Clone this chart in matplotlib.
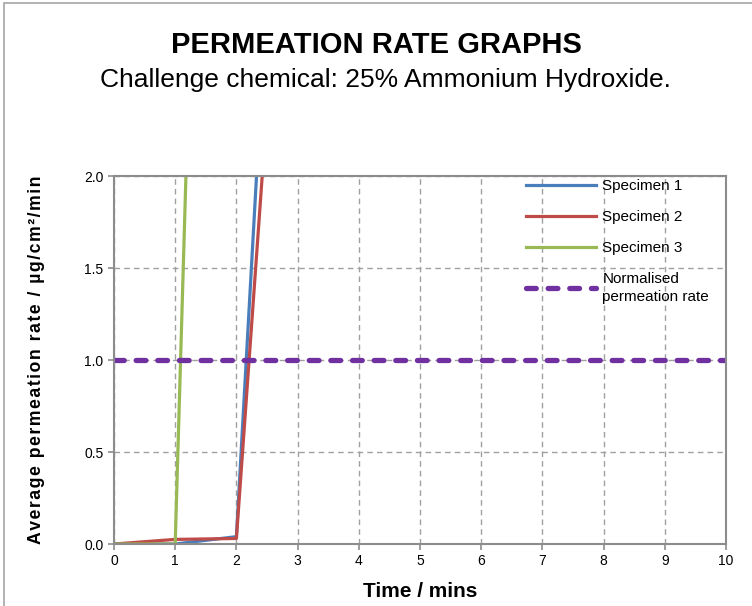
import matplotlib.pyplot as plt
from matplotlib.patches import Rectangle

plt.rcParams['font.family'] = ['Liberation Sans', 'DejaVu Sans']

# data
time = [0, 1, 2, 3]
spec1 = [0.0, 0.0, 0.04, 6.0]
spec2 = [0.0, 0.025, 0.03, 4.7]
spec3 = [0.0, 0.0, 11.4, 20.0]
norm_x = [0, 10]
norm_y = [1.0, 1.0]

fig = plt.figure(figsize=(7.52, 6.06), dpi=100)
fig.patches.append(Rectangle((4 / 752, -0.1), 1.2, 1 - 3 / 606 + 0.1, transform=fig.transFigure,
                             fill=False, edgecolor='#a6a6a6', linewidth=1.2))

ax = fig.add_axes([114 / 752, 1 - 544 / 606, 612 / 752, 368 / 606])
ax.plot(time, spec1, color='#4a7ebb', lw=2.3, label='Specimen 1')
ax.plot(time, spec2, color='#be4b48', lw=2.3, label='Specimen 2')
ax.plot(time, spec3, color='#98b954', lw=2.3, label='Specimen 3')
ax.plot(norm_x, norm_y, color='#7030a0', lw=3.8, ls=(0, (1.85, 2.25)), dash_capstyle='round',
        label='Normalised\npermeation rate')

ax.set_xlim(0, 10)
ax.set_ylim(0, 2)
ax.set_xticks(range(0, 11))
ax.set_yticks([0, 0.5, 1.0, 1.5, 2.0])
ax.set_yticklabels(['0.0', '0.5', '1.0', '1.5', '2.0'])
ax.grid(True, color='#a0a0a0', ls=(0, (4, 3)), lw=1)
for s in ax.spines.values():
    s.set_color('#8c8c8c')
    s.set_linewidth(1.5)
ax.tick_params(colors='#8c8c8c', labelcolor='black', labelsize=10, length=4, width=1.2)

ax.set_xlabel('Time / mins', fontsize=15, fontweight='bold', labelpad=10)
ylab = 'Average permeation rate / µg/cm²/min'
ax.set_ylabel('\u200a'.join(ylab), fontsize=12.7, fontweight='bold', labelpad=28)

leg = ax.legend(loc='upper left', bbox_to_anchor=((526 - 114) / 612, 0.991), frameon=False, fontsize=11,
                handlelength=4.6, handletextpad=0.4, labelspacing=1.1, borderpad=0, borderaxespad=0)
leg.get_texts()[3].set_linespacing(1.35)

fig.text(0.5, 1 - 45 / 606, 'PERMEATION RATE GRAPHS', ha='center', va='center',
         fontsize=21, fontweight='bold')
fig.text(0.513, 1 - 80 / 606, 'Challenge chemical: 25% Ammonium Hydroxide.', ha='center', va='center',
         fontsize=19)

fig.savefig('out.png', dpi=100)
